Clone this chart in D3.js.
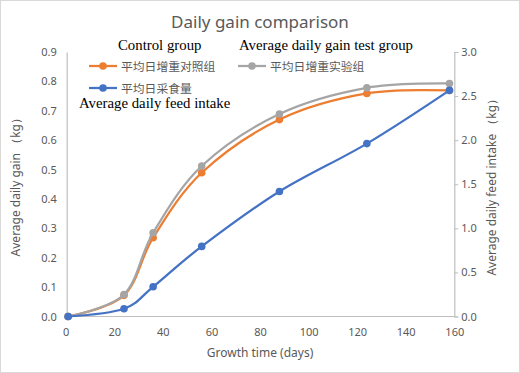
<!DOCTYPE html>
<html><head><meta charset="utf-8">
<script src="https://cdn.jsdelivr.net/npm/d3@7"></script>
<style>body{margin:0;background:#fff}svg{display:block}</style>
</head><body>
<script>
const days = [1, 24, 36, 56, 88, 124, 158];
const controlGain = [0, 0.072, 0.268, 0.489, 0.670, 0.759, 0.769];
const testGain = [0, 0.075, 0.285, 0.512, 0.689, 0.778, 0.793];
const feedIntake = [0, 0.088, 0.337, 0.795, 1.418, 1.961, 2.565];
const xTicks = [0, 20, 40, 60, 80, 100, 120, 140, 160];
const yLeftTicks = [0, 0.1, 0.2, 0.3, 0.4, 0.5, 0.6, 0.7, 0.8, 0.9];
const yRightTicks = [0, 0.5, 1.0, 1.5, 2.0, 2.5, 3.0];
const seriesNames = ["平均日增重对照组", "平均日增重实验组", "平均日采食量"];
const englishNames = ["Control group", "Average daily gain test group", "Average daily feed intake"];
const colors = ["#ED7D31", "#A5A5A5", "#4472C4"];

const W = 520, H = 373;
const m = {l: 66.7, r: 454.3, t: 52, b: 316.5};
const svg = d3.select("body").append("svg").attr("width", W).attr("height", H);
svg.append("rect").attr("x",0.5).attr("y",0.5).attr("width",W-1).attr("height",H-1)
  .attr("fill","#fff").attr("stroke","#d9d9d9");

const x = d3.scaleLinear().domain([0,160]).range([65.7, 454.3]);
const yL = d3.scaleLinear().domain([0,0.9]).range([m.b, m.t]);
const yR = d3.scaleLinear().domain([0,3]).range([m.b, m.t]);
const font = "'Noto Sans', sans-serif";
const grey = "#595959";

// Axes
const gx = svg.append("g").attr("transform",`translate(0,${m.b})`)
  .call(d3.axisBottom(x).tickValues(xTicks).tickSize(0).tickPadding(12).tickFormat(d3.format("d")));
const gl = svg.append("g").attr("transform",`translate(${m.l},0)`)
  .call(d3.axisLeft(yL).tickValues(yLeftTicks).tickSize(0).tickPadding(10).tickFormat(d3.format(".1f")));
const gr = svg.append("g").attr("transform",`translate(${m.r},0)`)
  .call(d3.axisRight(yR).tickValues(yRightTicks).tickSize(4).tickPadding(3).tickFormat(d3.format(".1f")));
[gx,gl,gr].forEach(g=>{
  g.select(".domain").attr("stroke","#bfbfbf").attr("stroke-width",1.2);
  g.selectAll(".tick line").attr("stroke","#bfbfbf");
  g.selectAll("text").attr("fill",grey).style("font-family",font).style("font-size","11px");
});
gx.select(".domain").attr("d",`M${m.l},0H${m.r}`);

// Axis titles
svg.append("text").attr("x",260).attr("y",357).attr("text-anchor","middle")
  .attr("fill",grey).style("font-family",font).style("font-size","12px").text("Growth time (days)");
svg.append("text").attr("transform",`translate(20,${(m.t+m.b)/2}) rotate(-90)`).attr("text-anchor","middle")
  .attr("fill",grey).style("font-family",font).style("font-size","12px").text("Average daily gain （kg）");
svg.append("text").attr("transform",`translate(496,${(m.t+m.b)/2}) rotate(-90)`).attr("text-anchor","middle")
  .attr("fill",grey).style("font-family",font).style("font-size","12px").text("Average daily feed intake （kg）");

// Title
svg.append("text").attr("x",260).attr("y",28).attr("text-anchor","middle")
  .attr("fill",grey).style("font-family",font).style("font-size","17px").text("Daily gain comparison");

// Series
const series = [
  {vals: controlGain, y: yL},
  {vals: testGain, y: yL},
  {vals: feedIntake, y: yR}
];
series.forEach((s,i)=>{
  const pts = days.map((d,j)=>[d, s.vals[j]]);
  const line = d3.line().x(d=>x(d[0])).y(d=>s.y(d[1])).curve(d3.curveCardinal.tension(0));
  svg.append("path").attr("d", line(pts)).attr("fill","none").attr("stroke",colors[i]).attr("stroke-width",2.25);
  svg.selectAll(null).data(pts).enter().append("circle")
    .attr("cx",d=>x(d[0])).attr("cy",d=>s.y(d[1])).attr("r",3.8).attr("fill",colors[i]);
});

// Legend
const leg = [
  {x: 89, y: 66},
  {x: 238, y: 66},
  {x: 89, y: 88}
];
leg.forEach((p,i)=>{
  svg.append("line").attr("x1",p.x).attr("x2",p.x+28).attr("y1",p.y).attr("y2",p.y)
    .attr("stroke",colors[i]).attr("stroke-width",2.25);
  svg.append("circle").attr("cx",p.x+14).attr("cy",p.y).attr("r",3.8).attr("fill",colors[i]);
  svg.append("text").attr("x",p.x+32).attr("y",p.y+4.5).attr("fill",grey)
    .style("font-family","'Noto Sans CJK SC', sans-serif").style("font-size","11.8px").text(seriesNames[i]);
});

// English overlay labels
const eng = [{x:118,y:50},{x:239,y:50},{x:79,y:108}];
eng.forEach((p,i)=>{
  svg.append("text").attr("x",p.x).attr("y",p.y).attr("fill","#000")
    .style("font-family","'Liberation Serif', 'Times New Roman', serif").style("font-size","14.8px").text(englishNames[i]);
});
</script>
</body></html>
